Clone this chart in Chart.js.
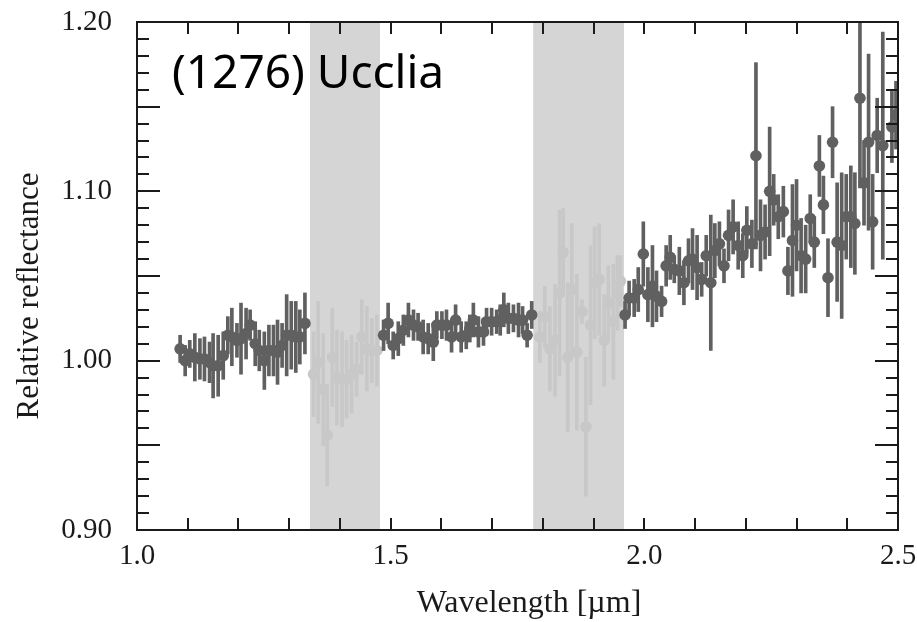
<!DOCTYPE html>
<html><head><meta charset="utf-8">
<script src="https://cdn.jsdelivr.net/npm/chart.js@4.4.1/dist/chart.umd.min.js"></script>
<style>html,body{margin:0;padding:0;background:#fff;}#wrap{width:917px;height:622px;}</style>
</head><body><div id="wrap"><canvas id="c" width="917" height="622"></canvas></div>
<script>
const titleText = '(1276) Ucclia';
const xTitle = 'Wavelength [µm]';
const yTitle = 'Relative reflectance';
const xTickLabels = [1.0, 1.5, 2.0, 2.5];
const yTickLabels = [0.90, 1.00, 1.10, 1.20];
const maskedBands = [[1.341, 1.479], [1.781, 1.960]];

// J-band segment
const jWave = [1.085,1.095,1.104,1.114,1.124,1.133,1.143,1.150,1.160,1.170,1.179,1.187,1.197,1.205,1.215,1.223,1.233,1.241,1.251,1.260,1.269,1.277,1.286,1.295,1.304,1.313,1.321,1.331];
const jRefl = [1.007,1.000,1.004,1.002,1.001,1.001,0.999,0.997,0.997,1.003,1.015,1.014,1.012,1.013,1.016,1.021,1.010,1.006,1.000,1.006,1.006,1.005,1.009,1.015,1.015,1.014,1.014,1.022];
const jErr  = [0.008,0.009,0.008,0.014,0.012,0.013,0.012,0.019,0.018,0.014,0.011,0.017,0.010,0.021,0.015,0.009,0.013,0.012,0.017,0.015,0.015,0.019,0.013,0.024,0.020,0.021,0.016,0.018];

// H-band segment
const hWave = [1.486,1.495,1.505,1.515,1.525,1.535,1.545,1.554,1.564,1.574,1.584,1.591,1.601,1.610,1.620,1.628,1.639,1.649,1.656,1.663,1.673,1.683,1.689,1.699,1.709,1.716,1.723,1.732,1.742,1.752,1.760,1.769,1.778];
const hRefl = [1.015,1.022,1.009,1.013,1.018,1.024,1.021,1.020,1.014,1.013,1.011,1.021,1.021,1.021,1.014,1.024,1.014,1.015,1.019,1.024,1.017,1.017,1.023,1.023,1.023,1.024,1.030,1.025,1.025,1.024,1.024,1.015,1.027];
const hErr  = [0.009,0.012,0.008,0.010,0.009,0.010,0.009,0.008,0.010,0.009,0.011,0.008,0.008,0.009,0.009,0.009,0.009,0.008,0.008,0.010,0.009,0.008,0.008,0.008,0.007,0.009,0.010,0.009,0.008,0.010,0.008,0.007,0.008];

// K-band segment
const kWave = [1.962,1.970,1.980,1.988,1.998,2.007,2.016,2.024,2.034,2.043,2.051,2.059,2.069,2.078,2.087,2.095,2.104,2.113,2.122,2.131,2.139,2.148,2.157,2.166,2.175,2.185,2.194,2.202,2.212,2.220,2.229,2.238,2.247,2.255,2.264,2.274,2.283,2.292,2.300,2.309,2.318,2.327,2.335,2.345,2.353,2.362,2.371,2.380,2.389,2.398,2.407,2.415,2.425,2.433,2.442,2.450,2.459,2.470,2.488,2.496];
const kRefl = [1.027,1.037,1.037,1.042,1.063,1.039,1.044,1.038,1.035,1.056,1.061,1.054,1.053,1.046,1.059,1.060,1.055,1.048,1.062,1.046,1.065,1.069,1.056,1.074,1.079,1.068,1.062,1.077,1.069,1.121,1.074,1.076,1.100,1.095,1.085,1.088,1.053,1.071,1.080,1.062,1.060,1.084,1.070,1.115,1.092,1.049,1.129,1.070,1.068,1.085,1.085,1.081,1.155,1.105,1.129,1.082,1.133,1.127,1.138,1.145];
const kErr  = [0.008,0.010,0.011,0.013,0.019,0.016,0.024,0.015,0.009,0.012,0.013,0.008,0.014,0.013,0.013,0.018,0.019,0.010,0.012,0.040,0.016,0.013,0.010,0.015,0.016,0.014,0.013,0.014,0.014,0.055,0.021,0.016,0.038,0.015,0.013,0.015,0.014,0.033,0.027,0.022,0.020,0.014,0.015,0.018,0.017,0.023,0.021,0.035,0.043,0.025,0.030,0.030,0.053,0.025,0.052,0.028,0.022,0.067,0.021,0.020];

// telluric (masked) points
const maskWave = [1.348,1.357,1.367,1.375,1.385,1.394,1.404,1.413,1.423,1.433,1.443,1.453,1.463,1.473,1.794,1.804,1.814,1.824,1.833,1.840,1.849,1.857,1.867,1.877,1.885,1.894,1.902,1.911,1.921,1.929,1.939,1.947,1.953];
const maskRefl = [0.992,0.999,0.983,0.956,1.002,0.990,0.989,0.989,0.992,0.995,1.014,1.007,1.006,1.006,1.014,1.026,1.007,1.012,1.040,1.064,1.002,1.042,1.005,1.029,0.961,1.021,1.046,1.048,1.012,1.034,1.023,1.040,1.047];
const maskErr  = [0.025,0.036,0.033,0.030,0.029,0.028,0.028,0.023,0.023,0.016,0.022,0.025,0.019,0.021,0.015,0.018,0.025,0.033,0.049,0.026,0.044,0.039,0.046,0.007,0.041,0.047,0.033,0.033,0.027,0.022,0.034,0.022,0.015];

const DARK = '#606060', LIGHT = '#c8c8c8', BAND = '#d5d5d5', INK = '#1a1a1a';

const goodWave = jWave.concat(hWave, kWave);
const goodRefl = jRefl.concat(hRefl, kRefl);
const goodErr  = jErr.concat(hErr, kErr);

const pts  = (w, r) => w.map((x, i) => ({x, y: r[i]}));
const bars = (w, r, e) => w.map((x, i) => ({x, y: [r[i] - e[i], r[i] + e[i]]}));

const framePlugin = {
  id: 'frame',
  beforeDatasetsDraw(chart) {
    const {ctx, chartArea: a, scales: {x}} = chart;
    ctx.save();
    ctx.fillStyle = BAND;
    maskedBands.forEach(([s, e]) => {
      const x0 = x.getPixelForValue(s), x1 = x.getPixelForValue(e);
      ctx.fillRect(x0, a.top, x1 - x0, a.bottom - a.top);
    });
    ctx.restore();
  },
  afterDraw(chart) {
    const {ctx, chartArea: a, scales: {x, y}} = chart;
    ctx.save();
    ctx.strokeStyle = INK;
    ctx.lineWidth = 2;
    ctx.beginPath();
    for (let i = 1; i < 15; i++) {
      const px = Math.round(x.getPixelForValue(1.0 + i * 0.1));
      ctx.moveTo(px, a.bottom); ctx.lineTo(px, a.bottom - 12);
      ctx.moveTo(px, a.top); ctx.lineTo(px, a.top + 12);
    }
    for (let i = 1; i < 30; i++) {
      const py = Math.round(y.getPixelForValue(0.9 + i * 0.01));
      const len = (i % 5 === 0) ? 23 : 12;
      ctx.moveTo(a.left, py); ctx.lineTo(a.left + len, py);
      ctx.moveTo(a.right, py); ctx.lineTo(a.right - len, py);
    }
    ctx.stroke();
    ctx.strokeRect(a.left, a.top, a.right - a.left, a.bottom - a.top);
    // panel label
    ctx.fillStyle = '#000';
    ctx.font = '46px "Noto Sans"';
    ctx.textBaseline = 'alphabetic';
    ctx.textAlign = 'left';
    ctx.fillText(titleText, a.left + 35, a.top + 66);
    // axis titles
    ctx.fillStyle = INK;
    ctx.font = '32px "Liberation Serif"';
    ctx.textAlign = 'center';
    ctx.fillText(xTitle, 529, 612);
    ctx.translate(30, 296);
    ctx.rotate(-Math.PI / 2);
    ctx.font = '31px "Liberation Serif"';
    ctx.textBaseline = 'middle';
    ctx.fillText(yTitle, 0, 0);
    ctx.restore();
  }
};

new Chart(document.getElementById('c'), {
  type: 'scatter',
  data: {
    datasets: [
      {type: 'bar', data: bars(maskWave, maskRefl, maskErr), backgroundColor: LIGHT, barThickness: 3, grouped: false, order: 4},
      {type: 'scatter', data: pts(maskWave, maskRefl), pointRadius: 5.8, backgroundColor: LIGHT, borderWidth: 0, order: 3},
      {type: 'bar', data: bars(goodWave, goodRefl, goodErr), backgroundColor: DARK, barThickness: 3, grouped: false, order: 2},
      {type: 'scatter', data: pts(goodWave, goodRefl), pointRadius: 5.8, backgroundColor: DARK, borderWidth: 0, order: 1}
    ]
  },
  options: {
    responsive: false,
    animation: false,
    layout: {padding: {left: 0, right: 19, top: 22, bottom: 0}},
    plugins: {legend: {display: false}, tooltip: {enabled: false}},
    scales: {
      x: {
        type: 'linear', min: 1.0, max: 2.5, offset: false,
        grid: {display: false, drawTicks: false}, border: {display: false},
        afterBuildTicks: s => { s.ticks = xTickLabels.map(v => ({value: v})); },
        afterFit: s => { s.height = 92; s.paddingLeft = 0; s.paddingRight = 0; s.paddingTop = 0; s.paddingBottom = 0; },
        ticks: {padding: 9, autoSkip: false, maxRotation: 0, color: INK,
                font: {family: 'Liberation Serif', size: 29},
                callback: v => Number(v).toFixed(1)},
        title: {display: false}
      },
      y: {
        type: 'linear', min: 0.9, max: 1.2,
        grid: {display: false, drawTicks: false}, border: {display: false},
        afterBuildTicks: s => { s.ticks = yTickLabels.map(v => ({value: v})); },
        afterFit: s => { s.width = 137; s.paddingLeft = 0; s.paddingRight = 0; s.paddingTop = 0; s.paddingBottom = 0; },
        ticks: {padding: 25, autoSkip: false, color: INK,
                font: {family: 'Liberation Serif', size: 29},
                callback: v => Number(v).toFixed(2)},
        title: {display: false}
      }
    }
  },
  plugins: [framePlugin]
});
</script></body></html>
